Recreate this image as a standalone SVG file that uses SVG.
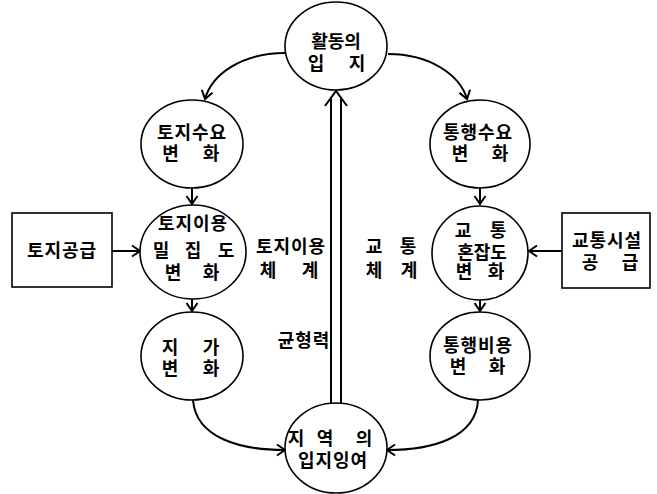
<svg xmlns="http://www.w3.org/2000/svg" width="657" height="494" viewBox="0 0 657 494">
<style>
  .shape { fill: #fff; stroke: #000; stroke-width: 1.6; }
  .t { font-family: "Noto Sans CJK KR", "Noto Sans", sans-serif; font-size: 18px; font-weight: bold; fill: #000; text-anchor: middle; }
  .c { fill: none; stroke: #000; stroke-width: 2; }
</style>
<defs>
  <marker id="ah" viewBox="-10 -7 12 14" refX="0" refY="0" markerWidth="12" markerHeight="14" markerUnits="userSpaceOnUse" orient="auto">
    <path d="M-8,-5.5 L0,0 L-8,5.5" fill="none" stroke="#000" stroke-width="2"/>
  </marker>
</defs>
<rect width="657" height="494" fill="#fff"/>

<g id="connectors">
  <path class="c" d="M285,53 C242,53 212,74 205,99" marker-end="url(#ah)"/>
  <path class="c" d="M388,54 C430,54 460,75 467,99" marker-end="url(#ah)"/>
  <path class="c" d="M192,188 V204" marker-end="url(#ah)"/>
  <path class="c" d="M192,298 V311" marker-end="url(#ah)"/>
  <path class="c" d="M480,188 V204" marker-end="url(#ah)"/>
  <path class="c" d="M480,299 V311" marker-end="url(#ah)"/>
  <path class="c" d="M112,251 H140" marker-end="url(#ah)"/>
  <path class="c" d="M562,251 H529" marker-end="url(#ah)"/>
  <path class="c" d="M193,400 C196,438 240,450 285,450" marker-end="url(#ah)"/>
  <path class="c" d="M478,400 C476,438 432,450 387,450" marker-end="url(#ah)"/>
  <g id="balance">
    <path class="c" d="M331,404 V97 M341,404 V97"/>
    <path class="c" d="M325,106 L336,91 L347,106"/>
  </g>
</g>

<g id="n-top">
  <ellipse class="shape" cx="336" cy="46" rx="51" ry="44"/>
  <text class="t" x="336" y="47.5">활동의</text>
  <text class="t" x="316 336 357" y="69.5">입 지</text>
</g>
<g id="n-land-demand">
  <ellipse class="shape" cx="192" cy="144" rx="51" ry="44"/>
  <text class="t" x="192" y="138.5" letter-spacing="1">토지수요</text>
  <text class="t" x="170.5 190 211" y="159.5">변 화</text>
</g>
<g id="n-trip-demand">
  <ellipse class="shape" cx="480" cy="144" rx="50" ry="44"/>
  <text class="t" x="478" y="138.5" letter-spacing="1">통행수요</text>
  <text class="t" x="460 480 500" y="159.5">변 화</text>
</g>
<g id="n-land-density">
  <ellipse class="shape" cx="193" cy="252" rx="53" ry="47"/>
  <text class="t" x="193" y="229.5" letter-spacing="1">토지이용</text>
  <text class="t" x="161 177 193 210 226" y="256.5">밀 집 도</text>
  <text class="t" x="173 192 211" y="278.5">변 화</text>
</g>
<g id="n-congestion">
  <ellipse class="shape" cx="480" cy="253" rx="48" ry="47"/>
  <text class="t" x="463 480 498" y="236.5">교 통</text>
  <text class="t" x="482" y="258.5">혼잡도</text>
  <text class="t" x="464 480 496" y="277.5">변 화</text>
</g>
<g id="n-price">
  <ellipse class="shape" cx="192" cy="356" rx="51" ry="44"/>
  <text class="t" x="170 190 211" y="353.5">지 가</text>
  <text class="t" x="170 190 211" y="374.5">변 화</text>
</g>
<g id="n-cost">
  <ellipse class="shape" cx="480" cy="356" rx="50" ry="44"/>
  <text class="t" x="478" y="351.5" letter-spacing="1">통행비용</text>
  <text class="t" x="458 478 497" y="373">변 화</text>
</g>
<g id="n-surplus">
  <ellipse class="shape" cx="336" cy="448" rx="51" ry="45"/>
  <text class="t" x="296 310 325 344 364" y="444.5">지 역 의</text>
  <text class="t" x="333" y="466.5" letter-spacing="1">입지잉여</text>
</g>
<g id="n-land-supply">
  <rect class="shape" x="12" y="213" width="100" height="74"/>
  <text class="t" x="62" y="256.5" letter-spacing="1">토지공급</text>
</g>
<g id="n-facility-supply">
  <rect class="shape" x="562" y="213" width="88" height="75"/>
  <text class="t" x="607" y="246.5" letter-spacing="1">교통시설</text>
  <text class="t" x="590 610 630" y="268.5">공 급</text>
</g>

<g id="labels">
  <text class="t" x="291" y="252.5" letter-spacing="1">토지이용</text>
  <text class="t" x="268 289 310" y="276.5">체 계</text>
  <text class="t" x="374 391 408" y="252.5">교 통</text>
  <text class="t" x="374 391 409" y="276.5">체 계</text>
  <text class="t" x="304" y="346.5" letter-spacing="1">균형력</text>
</g>
</svg>
